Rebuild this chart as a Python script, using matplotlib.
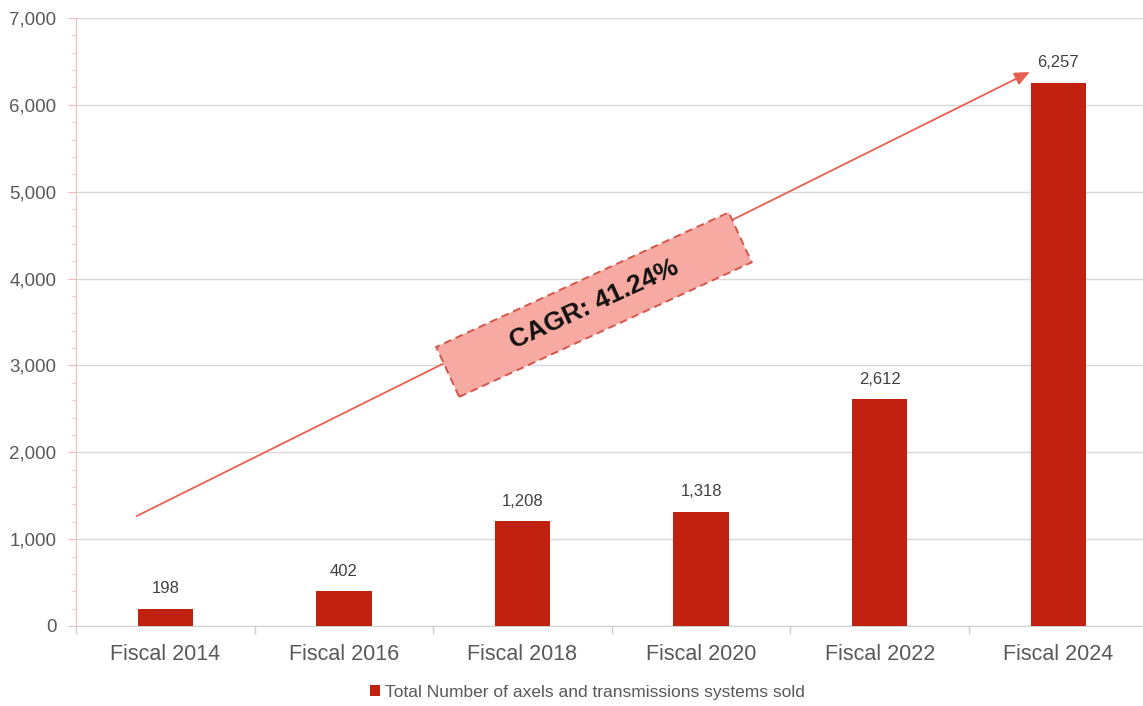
import matplotlib
matplotlib.use("Agg")
import matplotlib.pyplot as plt
from matplotlib.patches import Rectangle
from matplotlib.ticker import MultipleLocator, FuncFormatter
import matplotlib.transforms as mtrans

plt.rcParams['font.family'] = ['Liberation Sans', 'DejaVu Sans']

categories = ["Fiscal 2014", "Fiscal 2016", "Fiscal 2018", "Fiscal 2020", "Fiscal 2022", "Fiscal 2024"]
values = [198, 402, 1208, 1318, 2612, 6257]
series_name = "Total Number of axels and transmissions systems sold"
cagr_label = "CAGR: 41.24%"
# trend arrow endpoints (category index, value)
arrow_start = (-0.16, 1266)
arrow_end = (4.84, 6378)
box_center = (2.40, 3700)

bar_color = "#c0220f"
text_gray = "#404040"
tick_gray = "#595959"

fig = plt.figure(figsize=(11.43, 7.06), dpi=100)
ax = fig.add_axes([76/1143, 80/706, 1071.6/1143, 608/706])

x = list(range(len(categories)))
bars = ax.bar(x, values, width=0.31, color=bar_color, zorder=3, label=series_name)
for xi, v in zip(x, values):
    ax.annotate(f"{v:,}", (xi, v), xytext=(0, 9), textcoords="offset points",
                ha="center", va="bottom", fontsize=12, color=text_gray, zorder=5)

ax.set_xlim(-0.5, 5.5)
ax.set_ylim(0, 7000)
ax.yaxis.set_major_locator(MultipleLocator(1000))
ax.yaxis.set_minor_locator(MultipleLocator(200))
ax.yaxis.set_major_formatter(FuncFormatter(lambda v, p: f"{int(v):,}"))
ax.grid(axis="y", which="major", color="#d9d9d9", linewidth=1, zorder=0)

ax.set_xticks(x)
ax.set_xticklabels(categories, fontsize=15.5, color=tick_gray)
ax.set_xticks([i - 0.5 for i in range(len(categories) + 1)], minor=True)
ax.tick_params(axis="x", which="major", length=0, pad=13)
ax.tick_params(axis="x", which="minor", length=6, color="#d0d0d0", width=1)
ax.tick_params(axis="y", which="major", length=6, color="#f2b8c0", labelsize=13.5,
               labelcolor=tick_gray, pad=8)
ax.tick_params(axis="y", which="minor", length=3, color="#f2b8c0")

for s in ["top", "right"]:
    ax.spines[s].set_visible(False)
ax.spines["left"].set_color("#f2b8c0")
ax.spines["bottom"].set_color("#d0d0d0")

# trend arrow
ax.annotate("", xy=arrow_end, xytext=arrow_start,
            arrowprops=dict(arrowstyle="-|>,head_length=0.9,head_width=0.4",
                            color="#e8604f", lw=1.3, shrinkA=0, shrinkB=0),
            zorder=4)

# rotated dashed box with CAGR text
s = fig.dpi / 100.0
angle = 24.7
rect = Rectangle((-161 * s, -27.5 * s), 322 * s, 55 * s, facecolor="#f6aaa1",
                 edgecolor="#d5564b", linestyle=(0, (4, 2.5)), linewidth=1.4, zorder=6)
rect.set_transform(mtrans.Affine2D().rotate_deg(angle) +
                   mtrans.ScaledTranslation(box_center[0], box_center[1], ax.transData))
rect.set_clip_on(False)
ax.add_artist(rect)
ax.text(box_center[0], box_center[1], cagr_label, rotation=angle, rotation_mode="anchor",
        ha="center", va="center", fontsize=19, fontweight="bold", color="#111111", zorder=7)

fig.legend(handles=[bars], labels=[series_name], loc="center",
           bbox_to_anchor=(0.514, (706 - 692) / 706),
           frameon=False, fontsize=12.5, handlelength=0.55, handleheight=0.55, handletextpad=0.3,
           labelcolor=tick_gray, borderpad=0)

fig.savefig("out.png", dpi=100)
